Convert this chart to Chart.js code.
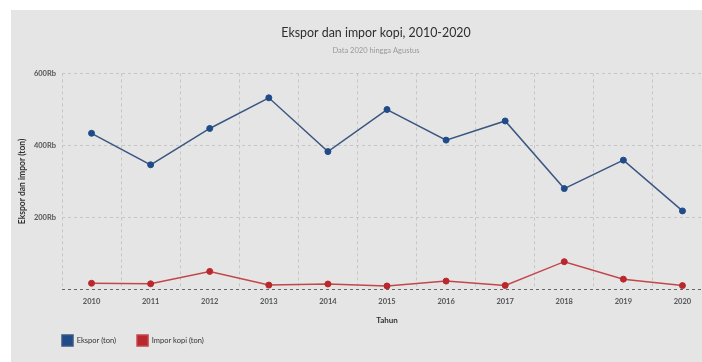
<!DOCTYPE html>
<html>
<head>
<meta charset="utf-8">
<script src="https://cdn.jsdelivr.net/npm/chart.js@4/dist/chart.umd.min.js"></script>
<style>
  html, body { margin: 0; padding: 0; background: #fff; overflow: hidden; }
  #panel { position: absolute; left: 11px; top: 10px; width: 730px; height: 352px; background: #e5e5e5; }
</style>
</head>
<body>
<div id="panel"><canvas id="chart" width="730" height="352"></canvas></div>
<script>
// Chart data — export/import of coffee, tonnes
const years = ['2010', '2011', '2012', '2013', '2014', '2015', '2016', '2017', '2018', '2019', '2020'];
const ekspor = [433595, 346063, 447010, 532139, 382750, 499612, 414651, 467800, 279961, 359052, 218000];
const impor = [17000, 15500, 50000, 12000, 15000, 9500, 23000, 11000, 77000, 28500, 10500];
const yTicks = [0, 200000, 400000, 600000];

const BLUE = '#1f4b89';
const RED = '#b8282c';
const FONT = 'Lato, "Noto Sans", sans-serif';

// shifts the legend to line up with the plot area
const legendShift = {
  id: 'legendShift',
  afterLayout(chart) {
    chart.legend.left += 30;
    chart.legend.right += 30;
  }
};

const ctx = document.getElementById('chart').getContext('2d');
new Chart(ctx, {
  type: 'line',
  data: {
    labels: years,
    datasets: [
      {
        label: 'Ekspor (ton)',
        data: ekspor,
        borderColor: '#3b5781',
        backgroundColor: BLUE,
        pointBackgroundColor: BLUE,
        pointBorderColor: BLUE,
        pointRadius: 3,
        pointBorderWidth: 1,
        borderWidth: 1.5,
        tension: 0
      },
      {
        label: 'Impor kopi (ton)',
        data: impor,
        borderColor: '#c2474b',
        backgroundColor: RED,
        pointBackgroundColor: RED,
        pointBorderColor: RED,
        pointRadius: 3,
        pointBorderWidth: 1,
        borderWidth: 1.5,
        tension: 0
      }
    ]
  },
  options: {
    responsive: false,
    animation: false,
    layout: { padding: { left: 0, right: 0, top: 0, bottom: 6 } },
    plugins: {
      title: {
        display: true,
        text: 'Ekspor dan impor kopi, 2010-2020',
        color: '#2e2e2e',
        font: { family: FONT, size: 12.4, weight: 'normal' },
        padding: { top: 15.5, bottom: 6 }
      },
      subtitle: {
        display: true,
        text: 'Data 2020 hingga Agustus',
        color: '#9a9a9a',
        font: { family: FONT, size: 7.5 },
        padding: { top: 0, bottom: 18 }
      },
      legend: {
        position: 'bottom',
        align: 'start',
        labels: {
          boxWidth: 11,
          boxHeight: 11,
          padding: 21,
          color: '#333',
          font: { family: FONT, size: 7.5 }
        }
      },
      tooltip: { enabled: false }
    },
    scales: {
      x: {
        offset: true,
        grid: { offset: true, color: '#c6c6c6', drawTicks: false },
        border: { display: false, dash: [3, 3] },
        ticks: { color: '#555', padding: 7.5, font: { family: FONT, size: 7.5, weight: 'bold' } },
        title: {
          display: true,
          text: 'Tahun',
          color: '#333',
          padding: { top: 2, bottom: -11 },
          font: { family: FONT, size: 8, weight: 'bold' }
        }
      },
      y: {
        min: 0,
        max: 600000,
        afterFit(scale) { scale.width = 51; },
        afterBuildTicks(scale) { scale.ticks = yTicks.map(v => ({ value: v })); },
        grid: {
          drawTicks: false,
          color: c => (c.tick && c.tick.value === 0 ? '#666' : '#c6c6c6')
        },
        border: { display: false, dash: [3, 3] },
        ticks: {
          color: '#555',
          padding: 6,
          font: { family: FONT, size: 7.5, weight: 'bold' },
          callback: v => (v === 0 ? '' : (v / 1000) + 'Rb')
        },
        title: {
          display: true,
          text: 'Ekspor dan impor (ton)',
          color: '#333',
          padding: { top: 6, bottom: 0 },
          font: { family: FONT, size: 8.5, weight: 'bold' }
        }
      },
      // empty right-hand strip so the plot runs past the window edge
      yRight: {
        position: 'right',
        min: 0,
        max: 600000,
        afterFit(scale) { scale.width = 29; },
        grid: { display: false },
        border: { display: false },
        ticks: { display: false }
      }
    }
  },
  plugins: [legendShift]
});
</script>
</body>
</html>
